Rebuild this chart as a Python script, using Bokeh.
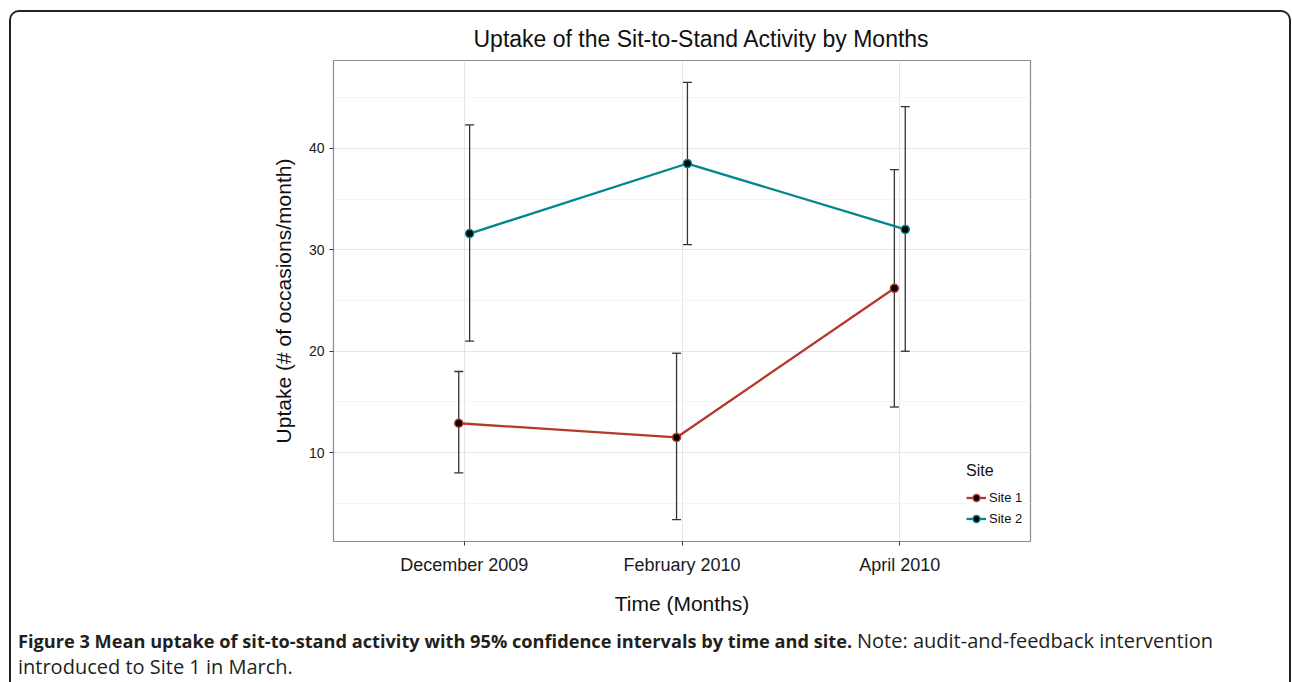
from bokeh.plotting import figure
from bokeh.layouts import column
from bokeh.models import (Range1d, FixedTicker, Whisker, TeeHead, InlineStyleSheet, Div,
                          ColumnDataSource, Legend, LegendItem)
from bokeh.embed import file_html
from bokeh.resources import INLINE

# ---------------- data ----------------
months = ["December 2009", "February 2010", "April 2010"]
sites = ["Site 1", "Site 2"]
site1_mean = [12.9, 11.5, 26.2]
site1_lower = [8.0, 3.4, 14.5]
site1_upper = [18.0, 19.8, 37.9]
site2_mean = [31.6, 38.5, 32.0]
site2_lower = [21.0, 30.5, 20.0]
site2_upper = [42.3, 46.5, 44.1]
y_ticks = [10, 20, 30, 40]
y_minor = [5, 15, 25, 35, 45]

title_text = "Uptake of the Sit-to-Stand Activity by Months"
x_title = "Time (Months)"
y_title = "Uptake (# of occasions/month)"
legend_title = "Site"
caption_bold = "Figure 3 Mean uptake of sit-to-stand activity with 95% confidence intervals by time and site."
caption_note = "Note: audit-and-feedback intervention"
caption_line2 = "introduced to Site 1 in March."

# ---------------- layout ----------------
W, H_PLOT, H_CAP = 1292, 620, 62
BL, BR, BT, BB = 333, 262, 60, 79
FONT = "Liberation Sans"
CAP_FONT = "'Open Sans'"
C1, C2 = "#B33A28", "#00878A"
DODGE = 0.025

X0, X1 = 0.4, 3.6
lo_all = min(site1_lower + site2_lower)
hi_all = max(site1_upper + site2_upper)
pad = (hi_all - lo_all) * 0.05
Y0, Y1 = lo_all - pad, hi_all + pad

p = figure(width=W, height=H_PLOT, output_backend="svg", toolbar_location=None,
           x_range=Range1d(X0, X1), y_range=Range1d(Y0, Y1),
           min_border_left=BL, min_border_right=BR, min_border_top=BT, min_border_bottom=BB)
p.background_fill_color = "white"
p.border_fill_color = "white"
p.outline_line_color = "#8a8a8a"
p.outline_line_width = 1.2

p.title.text = title_text
p.title.text_font = FONT
p.title.text_font_size = "23px"
p.title.text_font_style = "normal"
p.title.text_color = "#111111"
p.title.align = "left"
p.title.offset = 140
p.title.standoff = 17

# grids
p.xgrid.ticker = FixedTicker(ticks=[1, 2, 3])
p.xgrid.grid_line_color = "#E6E6E6"
p.ygrid.ticker = FixedTicker(ticks=y_ticks, minor_ticks=y_minor)
p.ygrid.grid_line_color = "#E6E6E6"
p.ygrid.minor_grid_line_color = "#F4F4F4"

# axes
p.xaxis.ticker = FixedTicker(ticks=[1, 2, 3])
p.xaxis.major_label_overrides = {i + 1: m for i, m in enumerate(months)}
p.yaxis.ticker = FixedTicker(ticks=y_ticks, minor_ticks=y_minor)
for ax in (p.xaxis, p.yaxis):
    ax.axis_line_color = None
    ax.major_tick_line_color = "#333333"
    ax.major_tick_out = 4
    ax.major_tick_in = 0
    ax.minor_tick_line_color = None
    ax.major_label_text_font = FONT
    ax.major_label_text_color = "#1a1a1a"
    ax.axis_label_text_font = FONT
    ax.axis_label_text_font_style = "normal"
    ax.axis_label_text_color = "#111111"
    ax.axis_label_text_font_size = "21px"
p.xaxis.major_label_text_font_size = "18px"
p.yaxis.major_label_text_font_size = "14px"
p.xaxis.axis_label = x_title
p.yaxis.axis_label = y_title
p.xaxis.major_label_standoff = 9
p.xaxis.axis_label_standoff = 14
p.yaxis.major_label_standoff = 5
p.yaxis.axis_label_standoff = 11

# ---------------- series ----------------
renderers = []
for k, (mean, lo, hi, col) in enumerate([(site1_mean, site1_lower, site1_upper, C1),
                                          (site2_mean, site2_lower, site2_upper, C2)]):
    off = -DODGE if k == 0 else DODGE
    src = ColumnDataSource(dict(x=[i + 1 + off for i in range(len(months))], m=mean, lo=lo, hi=hi))
    w = Whisker(base="x", upper="hi", lower="lo", source=src, dimension="height",
                line_color="#333333", line_width=1.3, level="underlay",
                upper_head=TeeHead(size=9, line_color="#333333", line_width=1.3),
                lower_head=TeeHead(size=9, line_color="#333333", line_width=1.3))
    p.add_layout(w)
    ln = p.line("x", "m", source=src, line_color=col, line_width=2.3)
    sc = p.scatter("x", "m", source=src, size=8, fill_color="black", line_color=col, line_width=1.5)
    renderers.append((ln, sc))

legend = Legend(items=[LegendItem(label=sites[i], renderers=list(renderers[i])) for i in range(2)],
                title=legend_title, location=(633, 14))
legend.title_text_font = FONT
legend.title_text_font_size = "16px"
legend.title_text_font_style = "normal"
legend.title_text_color = "#111111"
legend.title_standoff = 9
legend.label_text_font = FONT
legend.label_text_font_size = "13px"
legend.label_text_color = "#111111"
legend.glyph_width = 20
legend.glyph_height = 17
legend.spacing = 4
legend.padding = 2
legend.margin = 0
legend.label_standoff = 3
legend.border_line_color = None
legend.background_fill_color = "white"
legend.background_fill_alpha = 1
p.add_layout(legend)

# ---------------- caption ----------------
base = f"position:absolute;white-space:nowrap;font-family:{CAP_FONT};color:#231F20;line-height:26px;"
cap_html = (
    f'<div style="position:relative;width:{W - 10}px;height:{H_CAP - 6}px;background:white;">'
    f'<div style="{base}left:13px;top:3px;font-weight:bold;font-size:18.2px;">{caption_bold}</div>'
    f'<div style="{base}left:852px;top:3px;font-size:20px;">{caption_note}</div>'
    f'<div style="{base}left:13px;top:29px;font-size:20px;">{caption_line2}</div>'
    '</div>'
)
cap = Div(text=cap_html, width=W, height=H_CAP)

frame_css = InlineStyleSheet(css="""
:host { position: relative; }
:host::after {
  content: "";
  position: absolute;
  left: 9px; top: 10px;
  width: 1282px; height: 672px;
  box-sizing: border-box;
  border: 2px solid #222222;
  border-bottom: none;
  border-radius: 10px 10px 0 0;
  pointer-events: none;
}
""")

layout = column(p, cap, spacing=0, stylesheets=[frame_css])

open("out.html", "w").write(file_html(layout, INLINE))
